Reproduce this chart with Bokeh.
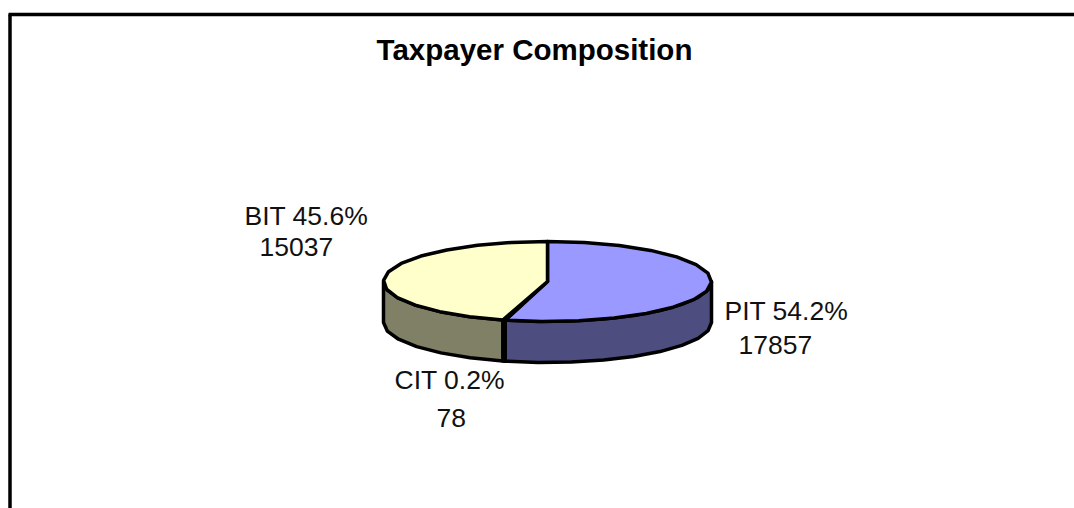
import math
from bokeh.plotting import figure
from bokeh.models import Range1d
from bokeh.core.properties import value
from bokeh.embed import file_html
from bokeh.resources import INLINE

title = "Taxpayer Composition"
categories = ["PIT", "CIT", "BIT"]
values = [17857, 78, 15037]
top_colors = ["#9999ff", "#993366", "#ffffcc"]
side_colors = ["#4d4d80", "#4d1a33", "#808066"]
label_lines = {
    "PIT": [("PIT 54.2%", 724, 310), ("17857", 738, 344)],
    "CIT": [("CIT 0.2%", 394, 379), ("78", 436, 417)],
    "BIT": [("BIT  45.6%", 244, 215), ("15037", 259, 246)],
}

W, H = 1074, 508
cx, cy, rx, ry, depth = 547, 281, 164, 40, 41
STEP = 13.0

p = figure(width=W, height=H, x_range=Range1d(0, W), y_range=Range1d(H, 0),
           output_backend="svg", toolbar_location=None, min_border=0)
p.axis.visible = False
p.grid.visible = False
p.outline_line_color = None
p.background_fill_color = "white"
p.border_fill_color = "white"


def arc(a0, a1):
    n = max(2, int(math.ceil((a1 - a0) / STEP)) + 1)
    angs = [a0 + (a1 - a0) * i / (n - 1) for i in range(n)]
    return [cx + rx * math.sin(math.radians(a)) for a in angs], [cy - ry * math.cos(math.radians(a)) for a in angs]


total = sum(values)
spans = []
a = 0.0
for v in values:
    b = a + 360.0 * v / total
    spans.append((a, b))
    a = b

for (a0, a1), col in zip(spans, side_colors):
    s0, s1 = max(a0, 90), min(a1, 270)
    if s1 <= s0:
        continue
    xs, ys = arc(s0, s1)
    px = xs + xs[::-1]
    py = ys + [y + depth for y in ys[::-1]]
    p.patch(px, py, fill_color=col, line_color="black", line_width=3.5, line_join="round")

for (a0, a1), col in zip(spans, top_colors):
    xs, ys = arc(a0, a1)
    p.patch([cx] + xs, [cy] + ys, fill_color=col, line_color="black", line_width=3.5, line_join="round")

p.line([9.5, 9.5], [H, 14], line_color="black", line_width=3.5)
p.line([8, W], [14, 14], line_color="black", line_width=3.5)

p.text([534], [49], text=[title], text_font=value("Liberation Sans"), text_font_style="bold",
       text_font_size="29.5px", text_color="black", text_align="center", text_baseline="alphabetic")
for c in categories:
    for t, x, y in label_lines[c]:
        p.text([x], [y], text=[t], text_font=value("Liberation Sans"), text_font_size="26.5px",
               text_color="#111111", text_align="left", text_baseline="alphabetic")

open("out.html", "w").write(file_html(p, INLINE))
